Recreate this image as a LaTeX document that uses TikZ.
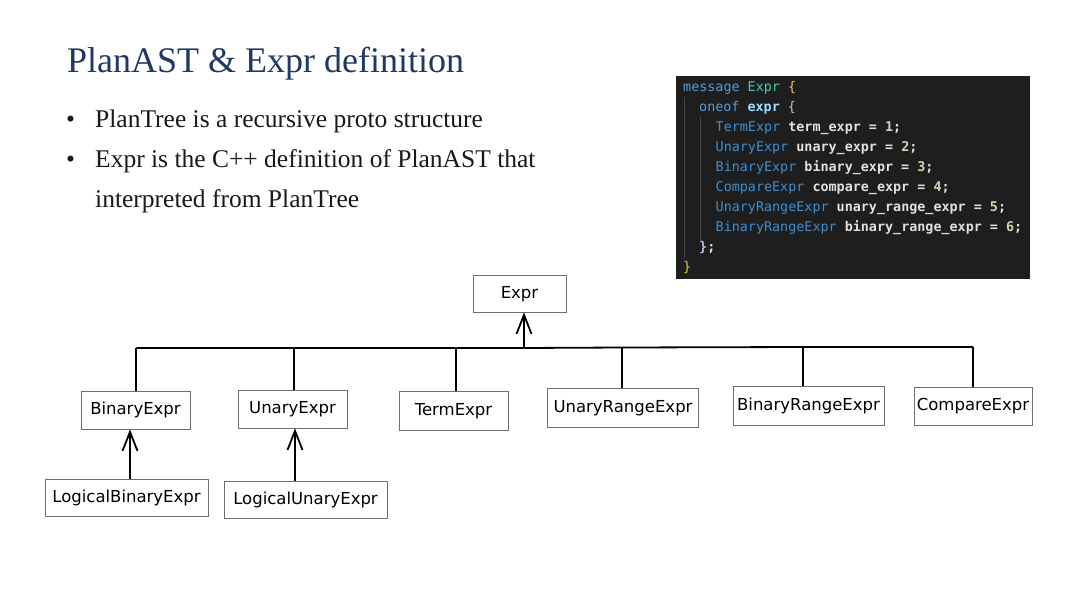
\documentclass[tikz,border=0pt]{standalone}
\usepackage{fontspec}
\setmainfont{Liberation Serif}
\newfontfamily\handfont{DejaVu Sans}
\newfontfamily\codefont{DejaVu Sans Mono}
\usetikzlibrary{arrows.meta,calc}
\definecolor{titleblue}{HTML}{1F3864}
\definecolor{codebg}{HTML}{1E1E1E}
\definecolor{ckw}{HTML}{569CD6}
\definecolor{cty}{HTML}{4EC9B0}
\definecolor{cvar}{HTML}{9CDCFE}
\definecolor{ctype}{HTML}{3F8FD0}
\definecolor{cfield}{HTML}{E0E0E0}
\definecolor{cnum}{HTML}{C8D8B0}
\definecolor{cbr}{HTML}{E8C840}
\definecolor{cbr2}{HTML}{C8B8E8}
\definecolor{cguide}{HTML}{454545}
\definecolor{boxline}{HTML}{6E6E6E}
\newcommand{\fld}[1]{\textcolor{cfield}{\bfseries #1}}
\begin{document}
\begin{tikzpicture}[x=1pt,y=-1pt,
  classbox/.style={draw=boxline, line width=0.9pt, inner sep=0pt, text height=12.5pt, text depth=3pt, font=\handfont\fontsize{16.5}{18}\selectfont},
  link/.style={draw=black, line width=1.8pt},
  inherit/.style={draw=black, line width=1.8pt, -{Straight Barb[length=19pt,width=15pt,line width=1.8pt]}},
  codeline/.style={anchor=base west, inner sep=0pt, font=\codefont\fontsize{13.4}{15}\selectfont},
  bodytext/.style={anchor=base west, inner sep=0pt, font=\fontsize{25.5}{28}\selectfont, text=black!90}]
\useasboundingbox (0,0) rectangle (1080,608);
\fill[white] (0,0) rectangle (1080,608);

% title and bullets
\node[anchor=base west, inner sep=0pt, font=\fontsize{36}{40}\selectfont, text=titleblue] (title) at (67,72) {PlanAST \& Expr definition};
\node[bodytext] (bul1) at (66,127) {\textbullet};
\node[bodytext] (txt1) at (95,127) {PlanTree is a recursive proto structure};
\node[bodytext] (bul2) at (66,167) {\textbullet};
\node[bodytext] (txt2) at (95,167) {Expr is the C++ definition of PlanAST that};
\node[bodytext] (txt3) at (95,207) {interpreted from PlanTree};

% code panel
\fill[codebg] (676,76) rectangle (1030,279);
\draw[cguide, line width=0.8pt] (684,97) -- (684,258);
\draw[cguide, line width=0.8pt] (700,117) -- (700,240);
\node[codeline] (c1) at (683,91) {\textcolor{ckw}{message} \textcolor{cty}{Expr} \textcolor{cbr}{\{}};
\node[codeline] (c2) at (699,111) {\textcolor{ckw}{oneof} \textcolor{cvar}{\bfseries expr} \textcolor{cbr2}{\{}};
\node[codeline] (c3) at (715.5,131) {\textcolor{ctype}{TermExpr} \fld{term\_expr = }\textcolor{cnum}{\bfseries 1}\fld{;}};
\node[codeline] (c4) at (715.5,151) {\textcolor{ctype}{UnaryExpr} \fld{unary\_expr = }\textcolor{cnum}{\bfseries 2}\fld{;}};
\node[codeline] (c5) at (715.5,171) {\textcolor{ctype}{BinaryExpr} \fld{binary\_expr = }\textcolor{cnum}{\bfseries 3}\fld{;}};
\node[codeline] (c6) at (715.5,191) {\textcolor{ctype}{CompareExpr} \fld{compare\_expr = }\textcolor{cnum}{\bfseries 4}\fld{;}};
\node[codeline] (c7) at (715.5,211) {\textcolor{ctype}{UnaryRangeExpr} \fld{unary\_range\_expr = }\textcolor{cnum}{\bfseries 5}\fld{;}};
\node[codeline] (c8) at (715.5,231) {\textcolor{ctype}{BinaryRangeExpr} \fld{binary\_range\_expr = }\textcolor{cnum}{\bfseries 6}\fld{;}};
\node[codeline] (c9) at (699,251) {\textcolor{cbr2}{\bfseries\}}\fld{;}};
\node[codeline] (c10) at (683,271) {\textcolor{cbr}{\}}};

% class boxes
\node[classbox, minimum width=93pt, minimum height=37pt] (expr) at (519.5,293.5) {Expr};
\node[classbox, minimum width=109pt, minimum height=38pt] (bin) at (135.5,410) {BinaryExpr};
\node[classbox, minimum width=109pt, minimum height=38pt] (un) at (292.5,409) {UnaryExpr};
\node[classbox, minimum width=109pt, minimum height=39pt] (term) at (453.5,410.5) {TermExpr};
\node[classbox, minimum width=151pt, minimum height=39pt] (unr) at (623,407.5) {UnaryRangeExpr};
\node[classbox, minimum width=151pt, minimum height=39pt] (binr) at (808.5,405.5) {BinaryRangeExpr};
\node[classbox, minimum width=118pt, minimum height=38pt] (cmp) at (973,406) {CompareExpr};
\node[classbox, minimum width=163pt, minimum height=37pt] (lbin) at (126.5,497.5) {LogicalBinaryExpr};
\node[classbox, minimum width=163pt, minimum height=37pt] (lun) at (305.5,499.5) {LogicalUnaryExpr};

% bus
\coordinate (b1) at (136,348);
\coordinate (b2) at (294,348);
\coordinate (b3) at (456,348);
\coordinate (bt) at (524,348);
\coordinate (b4) at (622,347.5);
\coordinate (b5) at (803,347);
\coordinate (b6) at (973,347);
\draw[link] (b1) -- (b2) -- (b3) -- (bt) -- (b4) -- (b5) -- (b6);
\draw[link] (b1) -- (b1 |- bin.north);
\draw[link] (b2) -- (b2 |- un.north);
\draw[link] (b3) -- (b3 |- term.north);
\draw[link] (b4) -- (b4 |- unr.north);
\draw[link] (b5) -- (b5 |- binr.north);
\draw[link] (b6) -- (b6 |- cmp.north);
\draw[inherit] (bt) -- (bt |- expr.south);
\coordinate (lb1) at ($(lbin.north)+(3.5,0)$);
\coordinate (lu1) at ($(lun.north)+(-10.5,0)$);
\draw[inherit] (lb1) -- (lb1 |- bin.south);
\draw[inherit] (lu1) -- (lu1 |- un.south);
\end{tikzpicture}
\end{document}
